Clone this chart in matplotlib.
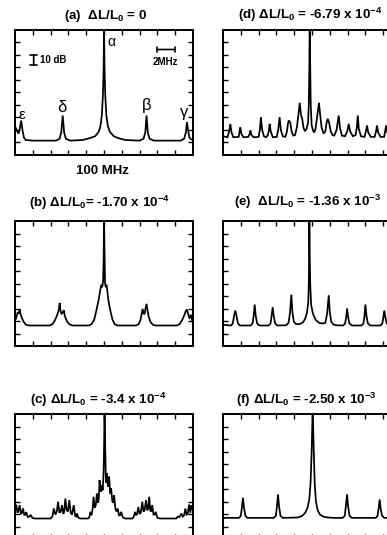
import matplotlib
matplotlib.use("agg")
import matplotlib.pyplot as plt

plt.rcParams['font.family'] = ['Liberation Sans', 'DejaVu Sans']
plt.rcParams['mathtext.default'] = 'regular'

# traces, in screen divisions: (frequency div, level div)
trace_a = [(0.0, 2.3), (0.12, 1.9), (0.2, 1.7), (0.28, 2.2), (0.35, 2.76), (0.42, 2.0),
           (0.5, 1.4), (0.6, 1.2), (1.0, 1.15), (2.3, 1.15), (2.5, 1.3), (2.6, 1.8),
           (2.68, 3.16), (2.76, 1.8), (2.86, 1.3), (3.1, 1.15), (3.8, 1.2), (4.2, 1.35),
           (4.5, 1.5), (4.7, 1.85), (4.8, 2.3), (4.88, 3.2), (4.94, 4.8), (4.98, 7.0),
           (5.0, 10.5), (5.03, 7.0), (5.07, 4.8), (5.13, 3.2), (5.22, 2.3), (5.33, 1.85),
           (5.55, 1.5), (5.8, 1.35), (6.2, 1.2), (7.0, 1.15), (7.22, 1.3), (7.32, 1.8),
           (7.39, 3.16), (7.46, 1.8), (7.56, 1.3), (7.8, 1.15), (9.3, 1.15), (9.5, 1.3),
           (9.6, 1.8), (9.66, 2.63), (9.72, 2.0), (9.8, 1.4), (9.9, 1.25), (10.0, 1.2)]

trace_b = [(0.0, 2.0), (0.08, 2.3), (0.15, 2.7), (0.22, 2.6), (0.26, 2.92), (0.32, 2.5),
           (0.4, 2.2), (0.5, 1.9), (0.62, 1.7), (0.8, 1.64), (1.95, 1.64), (2.1, 1.75),
           (2.22, 2.0), (2.32, 2.3), (2.4, 2.6), (2.46, 2.9), (2.51, 3.45), (2.56, 2.8),
           (2.62, 2.55), (2.68, 2.7), (2.74, 2.86), (2.8, 2.4), (2.88, 2.1), (2.98, 1.85),
           (3.1, 1.7), (3.25, 1.64), (4.15, 1.64), (4.3, 1.75), (4.45, 2.1), (4.58, 2.9),
           (4.7, 3.7), (4.78, 4.4), (4.82, 4.7), (4.86, 4.9), (4.9, 4.7), (4.95, 5.2),
           (4.98, 7.0), (5.0, 10.5), (5.03, 7.5), (5.06, 5.0), (5.1, 4.7), (5.14, 4.9),
           (5.18, 4.5), (5.24, 3.7), (5.36, 2.8), (5.48, 2.1), (5.6, 1.75), (5.75, 1.64),
           (6.8, 1.64), (6.95, 1.75), (7.05, 2.1), (7.12, 2.6), (7.17, 2.97), (7.22, 2.6),
           (7.28, 2.55), (7.33, 3.0), (7.39, 3.37), (7.45, 2.8), (7.52, 2.3), (7.62, 1.9),
           (7.75, 1.7), (7.9, 1.64), (9.1, 1.64), (9.25, 1.75), (9.4, 2.1), (9.52, 2.5),
           (9.6, 2.8), (9.66, 2.92), (9.72, 2.6), (9.8, 2.2), (9.88, 2.5), (9.95, 2.1),
           (10.0, 1.8)]

trace_c = [(0.0, 2.2), (0.07, 2.75), (0.14, 2.1), (0.2, 2.3), (0.26, 2.7), (0.33, 2.0),
           (0.39, 2.1), (0.45, 2.45), (0.52, 1.9), (0.58, 1.95), (0.63, 2.15), (0.72, 1.75),
           (0.8, 1.8), (0.88, 1.9), (0.98, 1.68), (1.1, 1.64), (2.0, 1.64), (2.1, 1.8),
           (2.18, 2.44), (2.27, 1.95), (2.35, 2.2), (2.42, 2.98), (2.5, 2.1), (2.57, 2.2),
           (2.64, 2.71), (2.72, 2.0), (2.77, 2.3), (2.83, 3.24), (2.9, 2.3), (2.97, 2.2),
           (3.05, 3.11), (3.13, 2.1), (3.2, 1.95), (3.3, 2.71), (3.38, 1.85), (3.43, 1.8),
           (3.48, 2.04), (3.56, 1.7), (3.67, 1.64), (4.1, 1.64), (4.18, 1.75), (4.23, 2.17),
           (4.3, 1.9), (4.36, 2.4), (4.41, 3.38), (4.48, 2.5), (4.54, 2.7), (4.6, 3.65),
           (4.67, 2.9), (4.71, 3.3), (4.75, 4.72), (4.81, 3.8), (4.85, 3.9), (4.88, 4.3),
           (4.93, 3.9), (4.98, 5.5), (5.01, 8.0), (5.03, 10.5), (5.06, 8.0), (5.1, 5.0),
           (5.13, 4.5), (5.16, 5.25), (5.22, 4.2), (5.26, 4.3), (5.29, 4.99), (5.34, 3.8),
           (5.37, 3.6), (5.4, 4.05), (5.47, 3.0), (5.52, 2.9), (5.57, 3.51), (5.64, 2.4),
           (5.7, 2.2), (5.77, 2.44), (5.84, 1.9), (5.9, 1.9), (5.96, 2.17), (6.05, 1.75),
           (6.18, 1.64), (6.6, 1.64), (6.68, 1.8), (6.74, 2.17), (6.8, 1.9), (6.86, 2.0),
           (6.93, 2.57), (7.0, 2.0), (7.07, 2.1), (7.15, 2.98), (7.22, 2.2), (7.28, 2.3),
           (7.36, 3.11), (7.43, 2.3), (7.48, 2.4), (7.54, 3.38), (7.6, 2.3), (7.65, 2.2),
           (7.71, 2.71), (7.78, 1.95), (7.84, 1.95), (7.9, 2.17), (8.0, 1.7), (8.14, 1.64),
           (9.05, 1.64), (9.16, 1.8), (9.22, 1.75), (9.28, 1.85), (9.35, 2.04), (9.42, 1.8),
           (9.5, 1.9), (9.57, 2.44), (9.64, 1.95), (9.7, 2.0), (9.78, 2.76), (9.85, 2.1),
           (9.91, 2.7), (10.0, 2.3)]

trace_d = [(0.0, 1.5), (0.25, 1.42), (0.35, 1.9), (0.41, 2.49), (0.48, 1.8), (0.58, 1.42),
           (0.88, 1.45), (0.92, 1.8), (0.97, 2.23), (1.03, 1.7), (1.15, 1.42), (1.42, 1.45),
           (1.5, 1.7), (1.54, 1.96), (1.6, 1.6), (1.72, 1.42), (2.0, 1.45), (2.07, 2.0),
           (2.13, 3.03), (2.2, 2.0), (2.3, 1.5), (2.42, 1.42), (2.52, 1.6), (2.58, 2.0),
           (2.62, 2.49), (2.68, 1.9), (2.8, 1.42), (3.02, 1.45), (3.1, 2.0), (3.18, 3.03),
           (3.25, 2.0), (3.36, 1.5), (3.5, 1.45), (3.58, 1.8), (3.65, 2.5), (3.69, 2.76),
           (3.78, 2.6), (3.85, 1.9), (3.95, 1.55), (4.05, 1.6), (4.15, 2.2), (4.25, 3.4),
           (4.31, 4.18), (4.38, 3.2), (4.45, 2.9), (4.52, 2.2), (4.6, 1.9), (4.7, 2.1),
           (4.78, 2.6), (4.82, 4.0), (4.85, 7.0), (4.87, 10.5), (4.9, 7.0), (4.93, 4.0),
           (4.98, 2.4), (5.05, 2.0), (5.12, 1.8), (5.2, 2.1), (5.3, 3.2), (5.39, 4.18),
           (5.46, 3.2), (5.54, 2.2), (5.65, 1.7), (5.75, 1.9), (5.82, 2.6), (5.88, 2.9),
           (5.96, 2.6), (6.05, 1.9), (6.15, 1.6), (6.25, 1.55), (6.38, 2.0), (6.5, 3.16),
           (6.57, 2.2), (6.68, 1.55), (6.85, 1.5), (6.98, 1.9), (7.06, 2.49), (7.14, 1.9),
           (7.3, 1.5), (7.45, 1.6), (7.52, 2.2), (7.57, 3.16), (7.63, 2.1), (7.75, 1.5),
           (7.95, 1.45), (8.03, 1.9), (8.09, 2.36), (8.16, 1.8), (8.3, 1.45), (8.52, 1.45),
           (8.6, 1.9), (8.65, 2.36), (8.72, 1.8), (8.85, 1.45), (9.05, 1.45), (9.11, 1.9),
           (9.16, 2.36), (9.23, 1.8), (9.38, 1.45), (9.6, 1.45), (9.66, 1.9), (9.72, 2.3),
           (9.8, 1.8), (10.0, 1.45)]

trace_e = [(0.0, 1.7), (0.45, 1.64), (0.55, 1.8), (0.62, 2.4), (0.69, 2.84), (0.76, 2.4),
           (0.84, 1.8), (0.95, 1.64), (1.55, 1.64), (1.66, 1.8), (1.72, 2.4), (1.78, 3.32),
           (1.84, 2.4), (1.92, 1.8), (2.05, 1.64), (2.56, 1.64), (2.67, 1.8), (2.73, 2.4),
           (2.79, 3.1), (2.85, 2.4), (2.93, 1.8), (3.06, 1.64), (3.55, 1.66), (3.68, 1.85),
           (3.76, 2.6), (3.84, 4.11), (3.9, 2.7), (3.98, 1.95), (4.1, 1.75), (4.3, 1.75),
           (4.5, 1.9), (4.62, 2.2), (4.72, 2.7), (4.79, 3.5), (4.82, 5.0), (4.84, 7.5),
           (4.85, 10.5), (4.87, 7.5), (4.9, 5.0), (4.95, 3.3), (5.05, 2.6), (5.2, 2.1),
           (5.4, 1.85), (5.6, 1.8), (5.75, 1.85), (5.85, 2.6), (5.94, 4.06), (6.0, 2.7),
           (6.08, 1.95), (6.2, 1.72), (6.35, 1.66), (6.75, 1.64), (6.86, 1.8), (6.92, 2.3),
           (6.97, 3.0), (7.03, 2.3), (7.1, 1.8), (7.25, 1.64), (7.78, 1.64), (7.89, 1.8),
           (7.95, 2.4), (8.0, 3.32), (8.06, 2.4), (8.14, 1.8), (8.28, 1.64), (8.84, 1.64),
           (8.95, 1.8), (9.01, 2.3), (9.06, 2.84), (9.12, 2.3), (9.2, 1.8), (9.35, 1.64),
           (9.85, 1.7), (10.0, 2.2)]

trace_f = [(0.0, 1.69), (0.9, 1.69), (1.0, 1.85), (1.06, 2.5), (1.12, 3.3), (1.18, 2.5),
           (1.26, 1.85), (1.38, 1.69), (2.85, 1.69), (2.97, 1.85), (3.03, 2.6), (3.09, 3.57),
           (3.15, 2.6), (3.23, 1.85), (3.36, 1.69), (4.2, 1.72), (4.45, 1.85), (4.62, 2.1),
           (4.75, 2.5), (4.85, 3.2), (4.92, 4.5), (4.98, 7.0), (5.04, 10.5), (5.1, 7.0),
           (5.15, 4.5), (5.22, 3.0), (5.32, 2.3), (5.45, 1.95), (5.65, 1.78), (5.9, 1.72),
           (6.2, 1.69), (6.72, 1.69), (6.84, 1.85), (6.9, 2.6), (6.97, 3.57), (7.03, 2.6),
           (7.11, 1.85), (7.24, 1.69), (8.58, 1.69), (8.68, 1.85), (8.75, 2.5), (8.8, 3.16),
           (8.86, 2.4), (8.94, 1.85), (9.06, 1.69), (10.0, 1.69)]

titles = {
    'a': r'(a)  $\Delta$L/L$_0$ = 0',
    'b': r'(b) $\Delta$L/L$_0$= -1.70 x 10$^{-4}$',
    'c': r'(c) $\Delta$L/L$_0$ = -3.4 x 10$^{-4}$',
    'd': r'(d) $\Delta$L/L$_0$ = -6.79 x 10$^{-4}$',
    'e': r'(e)  $\Delta$L/L$_0$ = -1.36 x 10$^{-3}$',
    'f': r'(f) $\Delta$L/L$_0$ = -2.50 x 10$^{-3}$',
}

# peak names in panel (a): label, x, y, size
peak_labels = [(r'$\alpha$', 5.45, 9.05, 10), (r'$\delta$', 2.68, 3.85, 12),
               (r'$\beta$', 7.39, 3.95, 12), (r'$\gamma$', 9.5, 3.3, 12),
               (r'$\epsilon$', 0.4, 3.2, 11)]

W, H = 387.0, 535.0
# panel frames in pixels: left, top, title x center, title baseline above top
panels = {
    'a': (15, 30, 106, 11, trace_a),
    'b': (15, 221, 99.5, 14, trace_b),
    'c': (15, 414, 98.5, 10, trace_c),
    'd': (223, 30, 310.5, 11, trace_d),
    'e': (223, 221, 308, 15, trace_e),
    'f': (223, 414, 306.5, 10, trace_f),
}
PW, PH = 178.0, 125.0


def draw_panel(fig, key):
    left, top, tx, tpad, trace = panels[key]
    ax = fig.add_axes([left / W, 1 - (top + PH) / H, PW / W, PH / H])
    xs = [p[0] for p in trace]
    ys = [p[1] for p in trace]
    ax.plot(xs, ys, color='black', lw=1.25, solid_joinstyle='miter')
    ax.set_xlim(0, 10)
    ax.set_ylim(0, 10)
    ax.set_xticks(range(1, 10))
    ax.set_yticks(range(1, 10))
    ax.tick_params(direction='in', length=3.5, width=1.0, top=True, right=True,
                   labelbottom=False, labelleft=False)
    for s in ax.spines.values():
        s.set_linewidth(1.4)
    ax.text((tx - left) / PW, 1 + tpad / PH, titles[key], transform=ax.transAxes,
            ha='center', va='baseline', fontsize=9.6, fontweight='bold')
    return ax


def main():
    fig = plt.figure(figsize=(W / 100, H / 100), dpi=100)
    axes = {}
    for key in 'abcdef':
        axes[key] = draw_panel(fig, key)

    ax = axes['a']
    for lab, x, y, size in peak_labels:
        ax.text(x, y, lab, ha='center', va='center', fontsize=size)
    ax.annotate('', xy=(1.05, 7.22), xytext=(1.05, 7.98),
                arrowprops=dict(arrowstyle='|-|, widthA=0.25, widthB=0.25', lw=1.2,
                                shrinkA=0, shrinkB=0))
    ax.text(1.42, 7.62, '10 dB', ha='left', va='center', fontsize=7, fontweight='bold')
    ax.annotate('', xy=(7.98, 8.44), xytext=(8.97, 8.44),
                arrowprops=dict(arrowstyle='|-|, widthA=0.2, widthB=0.2', lw=1.2,
                                shrinkA=0, shrinkB=0))
    ax.text(8.47, 7.4, '2MHz', ha='center', va='center', fontsize=7, fontweight='bold')
    ax.text(0.49, -16 / PH, '100 MHz', transform=ax.transAxes, ha='center', va='center',
            fontsize=9.5, fontweight='bold')

    fig.savefig('out.png', dpi=100)


if __name__ == '__main__':
    main()
